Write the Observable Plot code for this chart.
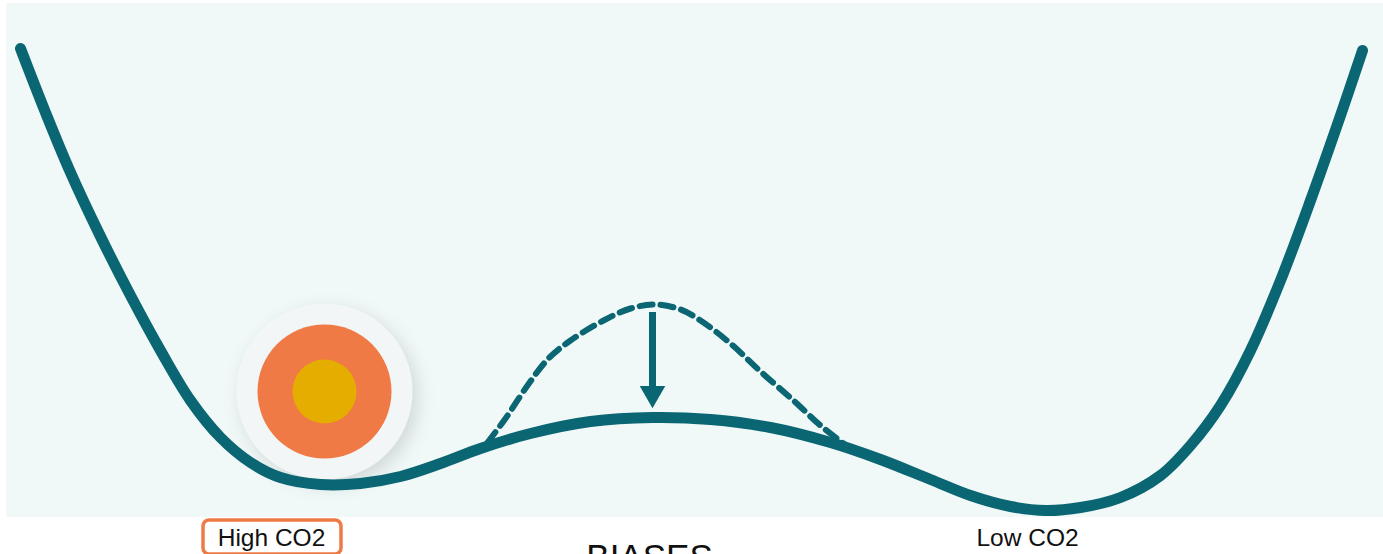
<!DOCTYPE html>
<html>
<head>
<meta charset="utf-8">
<script src="https://cdn.jsdelivr.net/npm/d3@7"></script>
<script src="https://cdn.jsdelivr.net/npm/@observablehq/plot@0.6"></script>
<style>
  html, body { margin: 0; padding: 0; background: #ffffff; overflow: hidden; }
  #chart svg { display: block; overflow: visible; }
</style>
</head>
<body>
<div id="chart"></div>
<script>
// Landscape coordinates: state (x) and height of the landscape (energy), both in plot units
const landscapeX = [20, 45, 70, 100, 130, 160, 190, 220, 250, 280, 320, 360, 400, 440, 480, 530, 590, 652, 710, 770, 830, 880, 930, 970, 1010, 1045, 1080, 1120, 1160, 1190, 1220, 1250, 1280, 1310, 1340, 1362];
const landscapeY = [506, 442, 382, 318, 259, 204, 154, 117, 92, 77, 70, 71, 78, 91, 106, 121, 133, 137, 135, 127, 112, 95, 75, 59, 48, 44, 47, 57, 79, 109, 149, 204, 274, 354, 439, 504];

// Former (higher) barrier, shown dashed
const barrierX = [487, 505, 527, 548, 570, 603, 630, 655, 680, 700, 730, 760, 793, 820, 843];
const barrierY = [112, 136, 169, 196, 214, 234, 246, 250, 245, 234, 211, 183, 154, 129, 111];

// Arrow: barrier lowered from old peak to new peak
const arrowX = [652];
const arrowFrom = [242];
const arrowTo = [146];

// Ball resting in the "High CO2" well
const ballX = [324];
const ballY = [163];

// Labels
const wellLabels = ["High CO2", "Low CO2"];
const wellLabelX = [271, 1027];
const wellLabelY = [16, 16];
const axisLabel = ["BIASES"];
const axisLabelX = [649];
const axisLabelY = [-3];

// Panel background extent
const panel = [{x1: 6, x2: 1383, y1: 37, y2: 551}];

const landscape = landscapeX.map((x, i) => ({x, y: landscapeY[i]}));
const barrier = barrierX.map((x, i) => ({x, y: barrierY[i]}));
const arrow = arrowX.map((x, i) => ({x, y1: arrowFrom[i], y2: arrowTo[i]}));
const ball = ballX.map((x, i) => ({x, y: ballY[i]}));
const labels = wellLabels.map((t, i) => ({t, x: wellLabelX[i], y: wellLabelY[i]}));
const bottom = axisLabel.map((t, i) => ({t, x: axisLabelX[i], y: axisLabelY[i]}));

const teal = "#0b6673";
const orange = "#f07a45";
const font = "Liberation Sans, Arial, sans-serif";

const chart = Plot.plot({
  width: 1383,
  height: 554,
  margin: 0,
  x: {domain: [0, 1383], range: [0, 1383], axis: null},
  y: {domain: [0, 554], range: [554, 0], axis: null},
  style: {background: "transparent", overflow: "visible"},
  marks: [
    Plot.rect(panel, {x1: "x1", x2: "x2", y1: "y1", y2: "y2", fill: "#f0f9f8"}),
    // ball: softly shadowed disc, orange ring, yellow core
    Plot.dot(ball, {x: "x", y: "y", r: 88, fill: "#f2f6f6", imageFilter: "drop-shadow(5px 6px 9px rgba(0,0,0,0.13))"}),
    Plot.dot(ball, {x: "x", y: "y", r: 67, fill: orange}),
    Plot.dot(ball, {x: "x", y: "y", r: 32, fill: "#e5ad00"}),
    // old barrier (dashed)
    Plot.line(barrier, {x: "x", y: "y", curve: "catmull-rom", stroke: teal, strokeWidth: 6, strokeDasharray: "13,8"}),
    // arrow
    Plot.ruleX(arrow, {x: "x", y1: "y1", y2: d => d.y2 + 18, stroke: teal, strokeWidth: 7}),
    Plot.dot(arrow, {x: "x", y: d => d.y2 + 15, symbol: "triangle", rotate: 180, r: 9.5, fill: teal}),
    // landscape
    Plot.line(landscape, {x: "x", y: "y", curve: "catmull-rom", stroke: teal, strokeWidth: 11, strokeLinecap: "round", strokeLinejoin: "round"}),
    // labels
    Plot.rect(labels.filter(d => d.t === "High CO2"), {x1: d => d.x - 68, x2: d => d.x + 70, y1: d => d.y - 16, y2: d => d.y + 18, stroke: orange, strokeWidth: 3.5, fill: "white", rx: 6}),
    Plot.text(labels, {x: "x", y: "y", text: "t", fontSize: 24.5, fill: "#111", fontFamily: font}),
    Plot.text(bottom, {x: "x", y: "y", text: "t", fontSize: 35, fill: "#111", fontFamily: font})
  ]
});
document.getElementById("chart").appendChild(chart);
</script>
</body>
</html>
